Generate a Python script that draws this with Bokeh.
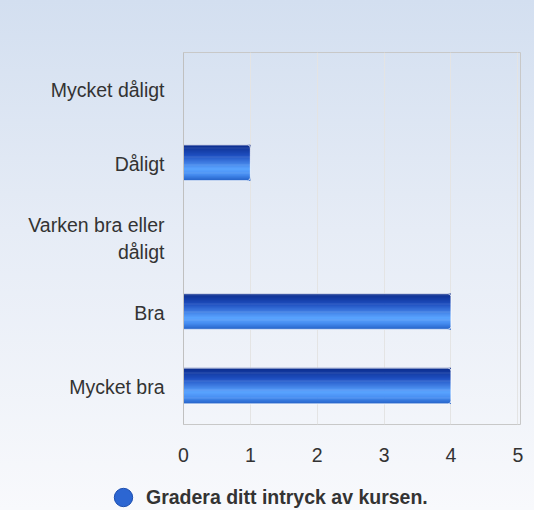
from bokeh.plotting import figure
from bokeh.models import (ColumnDataSource, FactorRange, Range1d, Legend, LegendItem)
from bokeh.layouts import column
from bokeh.transform import dodge
from bokeh.embed import file_html
from bokeh.resources import INLINE

# ---- data ----
categories = ["Mycket dåligt", "Dåligt", "Varken bra eller\ndåligt", "Bra", "Mycket bra"]
values = [0, 1, 0, 4, 4]
x_ticks = [0, 1, 2, 3, 4, 5]
series_name = "Gradera ditt intryck av kursen."

FONT = "Liberation Sans"

p = figure(width=534, height=466, output_backend="svg", toolbar_location=None,
           y_range=FactorRange(factors=list(reversed(categories)), range_padding=0,
                               factor_padding=0),
           x_range=Range1d(0, 5.04),
           min_border_left=183, min_border_top=52, min_border_right=14,
           min_border_bottom=42)
p.background_fill_alpha = 0
p.border_fill_alpha = 0
p.outline_line_color = "#c8c8c8"
p.outline_line_width = 1

src = ColumnDataSource(dict(cat=categories, val=values))

# gradient bar via thin stripes
stops = [(0.0, (11, 42, 138)), (0.3, (30, 79, 192)), (0.68, (90, 164, 255)),
         (0.84, (70, 140, 240)), (1.0, (37, 99, 200))]

def grad(t):
    for (t0, c0), (t1, c1) in zip(stops[:-1], stops[1:]):
        if t0 <= t <= t1:
            f = (t - t0) / (t1 - t0)
            return "#%02x%02x%02x" % tuple(int(round(a + (b - a) * f)) for a, b in zip(c0, c1))
    return "#%02x%02x%02x" % stops[-1][1]

bar_h = 0.48
shift = 0.018
N = 40
step = bar_h / N
for i in range(N):
    t = (i + 0.5) / N
    off = shift + bar_h / 2 - (i + 0.5) * step
    p.hbar(y=dodge("cat", off, range=p.y_range), left=0, right="val", height=step * 1.6,
           source=src, fill_color=grad(t), line_alpha=0)

p.hbar(y=dodge("cat", shift, range=p.y_range), left=0, right="val", height=bar_h,
       source=src, fill_alpha=0, line_color="#ffffff", line_alpha=0.8, line_width=1,
       border_radius=(0, 3, 3, 0))

p.xaxis.ticker = x_ticks
p.xaxis.axis_line_color = None
p.xaxis.major_tick_line_color = None
p.xaxis.minor_tick_line_color = None
p.xaxis.major_label_standoff = 17
p.xaxis.major_label_text_font = FONT
p.xaxis.major_label_text_font_size = "19.5px"
p.xaxis.major_label_text_color = "#333333"

p.yaxis.axis_line_color = "#c0c0c0"
p.yaxis.major_tick_line_color = None
p.yaxis.minor_tick_line_color = None
p.yaxis.major_label_standoff = 13
p.yaxis.major_label_text_font = FONT
p.yaxis.major_label_text_font_size = "19.5px"
p.yaxis.major_label_text_color = "#333333"

p.xgrid.grid_line_color = "#e4e4e4"
p.ygrid.grid_line_color = None

# legend strip
p2 = figure(width=534, height=44, output_backend="svg", toolbar_location=None,
            x_range=Range1d(0, 1), y_range=Range1d(0, 1),
            min_border=0, min_border_left=0, min_border_right=0,
            min_border_top=0, min_border_bottom=0)
p2.frame_align = False
p2.axis.visible = False
p2.grid.visible = False
p2.outline_line_color = None
p2.background_fill_alpha = 0
p2.border_fill_alpha = 0
dummy = p2.scatter(x=[float("nan")], y=[float("nan")], size=18, marker="circle",
                   fill_color="#2c66d2", line_color="#1d4fb0", line_width=1)
legend = Legend(items=[LegendItem(label=series_name, renderers=[dummy])],
                location=(100, -10), padding=0, margin=0, spacing=0,
                glyph_width=46, glyph_height=46, label_standoff=0,
                border_line_alpha=0, background_fill_alpha=0,
                label_text_font=FONT, label_text_font_size="19.5px",
                label_text_font_style="bold", label_text_color="#333333")
p2.add_layout(legend, "center")

layout = column(p, p2, spacing=0,
                styles={"background": "linear-gradient(to bottom, #d3dff0 0%, #e6ecf6 45%, #f8f9fc 100%)"})

open("out.html", "w").write(file_html(layout, INLINE))
